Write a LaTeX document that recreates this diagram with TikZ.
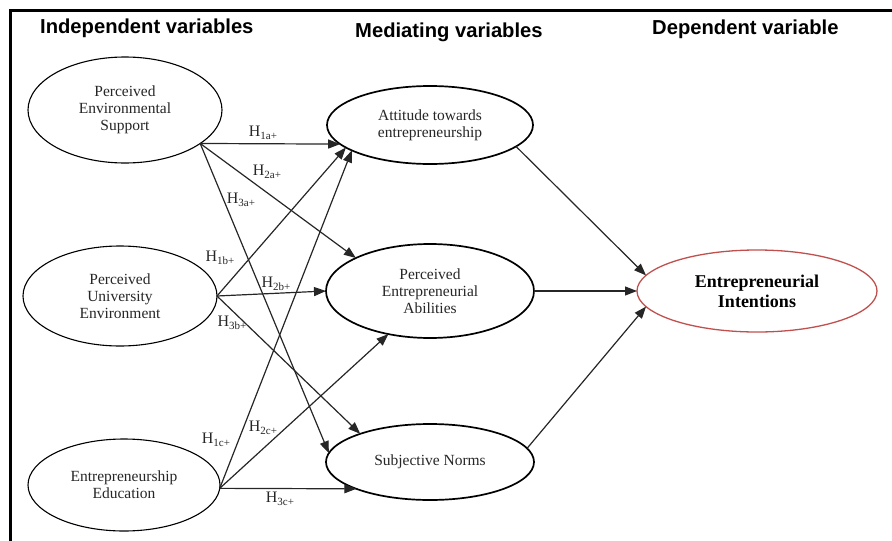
\documentclass[tikz,border=0pt]{standalone}
\usepackage{fontspec}
\setmainfont{Liberation Serif}
\newfontfamily\titlefont{Liberation Sans}
\usetikzlibrary{shapes.geometric,arrows.meta}
\definecolor{eired}{HTML}{C0504D}
\definecolor{txt}{HTML}{262626}
\newcommand{\hlab}[1]{H\raisebox{-3pt}{\fontsize{11}{11}\selectfont #1}}
\begin{document}
\begin{tikzpicture}[x=1pt,y=-1pt,
  var/.style={ellipse,draw,line width=1.1pt,inner sep=0pt,outer sep=0pt,align=center,
    font=\fontsize{15.5}{17}\selectfont,text=txt},
  med/.style={var,line width=1.7pt},
  arr/.style={draw=black!85,line width=1.2pt,-{Triangle[length=12pt,width=9pt]}},
  hyp/.style={font=\fontsize{16}{18}\selectfont,text=txt,inner sep=0pt},
  ttl/.style={font=\titlefont\bfseries\fontsize{20.2}{23}\selectfont,inner sep=0pt,anchor=west}]
\useasboundingbox (0,0) rectangle (892,541);
\draw[line width=3pt] (10,541) -- (10,10) -- (892,10);
% titles
\node[ttl] (t1) at (40,28) {Independent variables};
\node[ttl] (t2) at (355,32) {Mediating variables};
\node[ttl] (t3) at (652,29) {Dependent variable};
% independent
\node[var,minimum width=194pt,minimum height=106pt] (pes) at (125,110) {Perceived\\Environmental\\Support};
\node[var,minimum width=194pt,minimum height=100pt] (pue) at (120,296) {Perceived\\University\\Environment};
\node[var,minimum width=192pt,minimum height=92pt] (ee) at (124,485) {Entrepreneurship\\Education};
% mediating
\node[med,minimum width=206pt,minimum height=78pt] (ate) at (430,125) {Attitude towards\\entrepreneurship};
\node[med,minimum width=208pt,minimum height=94pt] (pea) at (430,291) {Perceived\\Entrepreneurial\\Abilities};
\node[med,minimum width=208pt,minimum height=76pt] (sn) at (430,462) {Subjective Norms};
% dependent
\node[var,draw=eired,line width=1.3pt,minimum width=240pt,minimum height=82pt,
  font=\bfseries\fontsize{18}{20}\selectfont,text=black] (ei) at (757,291) {Entrepreneurial\\Intentions};
% hypotheses
\draw[arr] (pes.-24) -- (ate.192);
\draw[arr] (pes.-24) -- (pea.156);
\draw[arr] (pes.-24) -- (sn.175);
\draw[arr] (pue.east) -- (ate.195);
\draw[arr] (pue.east) -- (pea.west);
\draw[arr] (pue.east) -- (sn.158);
\draw[arr] (ee.-2) -- (ate.198);
\draw[arr] (ee.-2) -- (pea.226);
\draw[arr] (ee.-2) -- (sn.200);
\draw[arr] (ate.-14) -- (ei.172);
\draw[arr] (pea.east) -- (ei.west);
\draw[arr] (sn.8) -- (ei.188);
% labels
\node[hyp] (h1a) at (263,133) {\hlab{1a+}};
\node[hyp] (h2a) at (267,172) {\hlab{2a+}};
\node[hyp] (h3a) at (241,200) {\hlab{3a+}};
\node[hyp] (h1b) at (220,258) {\hlab{1b+}};
\node[hyp] (h2b) at (276,284) {\hlab{2b+}};
\node[hyp] (h3b) at (232,323) {\hlab{3b+}};
\node[hyp] (h1c) at (216,440) {\hlab{1c+}};
\node[hyp] (h2c) at (263,428) {\hlab{2c+}};
\node[hyp] (h3c) at (280,499) {\hlab{3c+}};
\end{tikzpicture}
\end{document}
